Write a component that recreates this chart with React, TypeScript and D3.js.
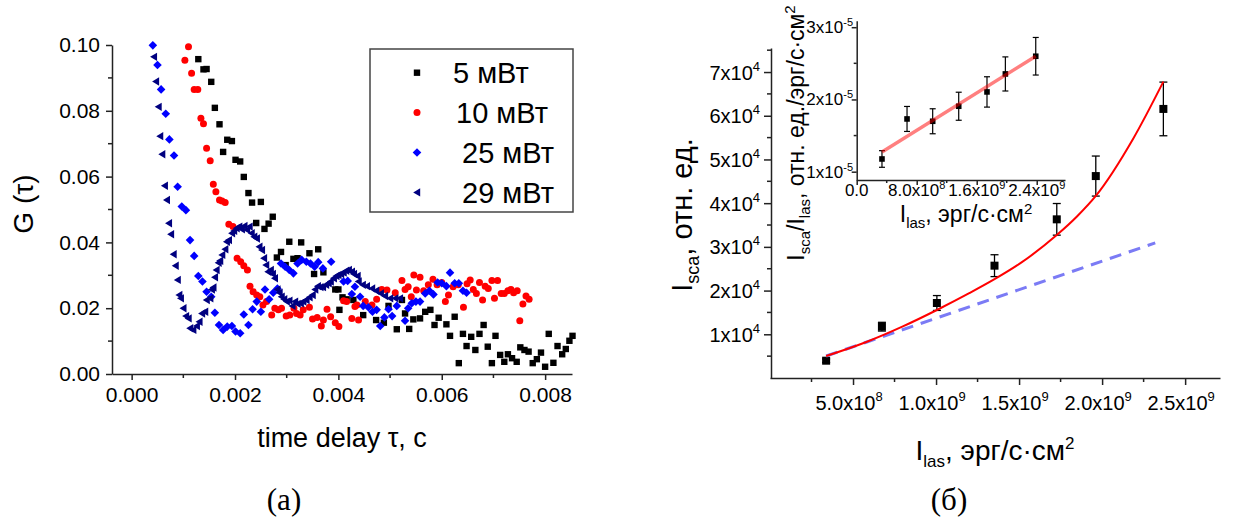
import React, { useEffect, useRef } from 'react';
import * as d3 from 'd3';

const W = 1234;
const H = 522;

// ---- panel (a): G(tau), time delay in seconds ----
const g5mW: [number, number][] = [
  [0.00129, 0.0957], [0.00139, 0.0926], [0.00145, 0.0927], [0.00154, 0.0888], [0.00161, 0.0809],
  [0.0017, 0.0759], [0.00177, 0.0675], [0.00185, 0.0712], [0.00194, 0.0708], [0.00201, 0.0651],
  [0.0021, 0.0646], [0.00217, 0.0599], [0.00226, 0.055], [0.00233, 0.0521], [0.00241, 0.0459],
  [0.0025, 0.0523], [0.00257, 0.0441], [0.00265, 0.0457], [0.00273, 0.0478], [0.00281, 0.0354],
  [0.00289, 0.0371], [0.00298, 0.0331], [0.00305, 0.0402], [0.00313, 0.035], [0.00321, 0.0352],
  [0.00328, 0.04], [0.00344, 0.0367], [0.00353, 0.0304], [0.00361, 0.0379], [0.00371, 0.0309],
  [0.00394, 0.0257], [0.004, 0.0257], [0.00402, 0.0195], [0.00408, 0.0233], [0.00416, 0.0227],
  [0.00429, 0.0225], [0.00448, 0.0179], [0.00473, 0.0164], [0.00488, 0.0156], [0.00497, 0.0207],
  [0.00513, 0.0136], [0.00523, 0.0225], [0.00529, 0.0184], [0.00537, 0.0137], [0.00545, 0.0166],
  [0.00558, 0.0169], [0.00568, 0.0189], [0.00578, 0.0195], [0.00586, 0.0149], [0.00594, 0.0171],
  [0.00609, 0.0151], [0.00616, 0.0116], [0.00625, 0.0174], [0.00633, 0.0033], [0.00641, 0.0122],
  [0.00648, 0.0085], [0.00657, 0.0113], [0.00665, 0.0073], [0.00673, 0.0122], [0.00681, 0.0149],
  [0.00689, 0.0083], [0.00697, 0.0033], [0.00704, 0.0116], [0.00713, 0.0058], [0.00721, 0.0037],
  [0.00728, 0.006], [0.00736, 0.0048], [0.00745, 0.0037], [0.00752, 0.0081], [0.0076, 0.0073],
  [0.00768, 0.0068], [0.00776, 0.0033], [0.00784, 0.0045], [0.00792, 0.0065], [0.008, 0.0022],
  [0.00807, 0.0122], [0.00816, 0.0034], [0.00824, 0.0085], [0.00833, 0.006], [0.0084, 0.0076],
  [0.00847, 0.0101], [0.00853, 0.0116],
];

const g10mW: [number, number][] = [
  [0.00103, 0.0954], [0.0011, 0.0995], [0.00116, 0.0914], [0.00121, 0.0865], [0.00128, 0.0865],
  [0.00134, 0.0777], [0.00139, 0.0761], [0.00145, 0.0686], [0.00152, 0.0648], [0.00158, 0.0577],
  [0.00163, 0.0554], [0.0017, 0.0529], [0.00175, 0.0526], [0.00181, 0.0521], [0.00188, 0.0455],
  [0.00196, 0.0448], [0.00204, 0.0352], [0.00211, 0.0341], [0.00217, 0.0329], [0.00224, 0.0316],
  [0.00229, 0.0267], [0.00235, 0.025], [0.00242, 0.024], [0.00248, 0.0235], [0.00254, 0.021],
  [0.00261, 0.022], [0.00271, 0.0179], [0.00277, 0.02], [0.00284, 0.0195], [0.0029, 0.02],
  [0.00299, 0.0176], [0.00306, 0.0179], [0.00314, 0.02], [0.00319, 0.0184], [0.00326, 0.0179],
  [0.00332, 0.0195], [0.00344, 0.0203], [0.0035, 0.0167], [0.00359, 0.0172], [0.00367, 0.0146],
  [0.00371, 0.0164], [0.00378, 0.0197], [0.00385, 0.0174], [0.00394, 0.0156], [0.00401, 0.0144],
  [0.0041, 0.0223], [0.00416, 0.022], [0.00426, 0.0169], [0.00432, 0.0205], [0.00436, 0.021],
  [0.00439, 0.0164], [0.00452, 0.022], [0.00465, 0.021], [0.00474, 0.0227], [0.00484, 0.0257],
  [0.00494, 0.0255], [0.0051, 0.0247], [0.00523, 0.0284], [0.00529, 0.0257], [0.00535, 0.0265],
  [0.00541, 0.0235], [0.00546, 0.0301], [0.00551, 0.0255], [0.00558, 0.0294], [0.00565, 0.0253],
  [0.00574, 0.0271], [0.00583, 0.0288], [0.00591, 0.0271], [0.006, 0.0278], [0.00607, 0.022],
  [0.00613, 0.024], [0.00622, 0.0265], [0.00632, 0.0271], [0.00642, 0.0203], [0.00649, 0.0274],
  [0.00655, 0.0286], [0.00661, 0.0257], [0.00667, 0.0245], [0.00673, 0.0278], [0.00679, 0.0225],
  [0.00684, 0.0267], [0.0069, 0.026], [0.00697, 0.0284], [0.00702, 0.023], [0.00708, 0.0284],
  [0.00715, 0.0245], [0.00721, 0.0245], [0.00728, 0.0253], [0.00734, 0.0257], [0.00739, 0.0247],
  [0.00746, 0.0253], [0.00751, 0.0162], [0.00757, 0.0213], [0.00763, 0.0237], [0.00769, 0.0227],
];

const g25mW: [number, number][] = [
  [0.00041, 0.0999], [0.0005, 0.0939], [0.00057, 0.0865], [0.00066, 0.0791], [0.00073, 0.0713],
  [0.00082, 0.0664], [0.00089, 0.0569], [0.00097, 0.0509], [0.00105, 0.0498], [0.00113, 0.0407],
  [0.00121, 0.0359], [0.00129, 0.0298], [0.00137, 0.0281], [0.00145, 0.025], [0.00154, 0.0235],
  [0.00161, 0.0186], [0.00169, 0.0149], [0.00177, 0.0134], [0.00185, 0.0144], [0.00194, 0.0146],
  [0.00201, 0.0129], [0.0021, 0.0124], [0.00217, 0.0181], [0.00226, 0.0149], [0.00234, 0.0197],
  [0.00242, 0.022], [0.0025, 0.0189], [0.00258, 0.0257], [0.00266, 0.0227], [0.00274, 0.0247],
  [0.00282, 0.026], [0.00289, 0.0336], [0.00297, 0.0326], [0.00305, 0.0316], [0.00313, 0.0306],
  [0.00321, 0.0336], [0.00329, 0.0347], [0.00338, 0.0341], [0.00346, 0.0336], [0.00354, 0.0326],
  [0.00361, 0.034], [0.0037, 0.0321], [0.00386, 0.0341], [0.0041, 0.0281], [0.00418, 0.0283],
  [0.00426, 0.0243], [0.00432, 0.0265], [0.00442, 0.0235], [0.00448, 0.0207], [0.00458, 0.0203],
  [0.00466, 0.0189], [0.00474, 0.0195], [0.00481, 0.0146], [0.00489, 0.0172], [0.00497, 0.0197],
  [0.00504, 0.0176], [0.00513, 0.0207], [0.00529, 0.0162], [0.00535, 0.02], [0.00542, 0.0215],
  [0.0055, 0.022], [0.00558, 0.022], [0.00568, 0.0245], [0.00576, 0.0253], [0.00584, 0.0242],
  [0.00592, 0.0278], [0.006, 0.0276], [0.00609, 0.0267], [0.00616, 0.0308], [0.00625, 0.0276],
  [0.00633, 0.0276], [0.00641, 0.0253], [0.00648, 0.0247],
];

const g29mW: [number, number][] = [
  [0.00043, 0.0964], [0.00047, 0.0889], [0.00052, 0.0812], [0.00055, 0.0723], [0.00059, 0.0668],
  [0.00064, 0.0572], [0.00068, 0.0529], [0.00072, 0.0458], [0.00076, 0.0425], [0.00081, 0.0364],
  [0.00085, 0.0329], [0.00089, 0.0286], [0.00092, 0.024], [0.00095, 0.023], [0.001, 0.02],
  [0.00105, 0.0176], [0.0011, 0.0169], [0.00113, 0.0139], [0.00119, 0.0134], [0.00126, 0.0146],
  [0.00131, 0.0159], [0.00136, 0.0184], [0.00142, 0.0189], [0.00145, 0.0225], [0.00152, 0.023],
  [0.00155, 0.0257], [0.00158, 0.0263], [0.00161, 0.0294], [0.00164, 0.0316], [0.00168, 0.0338],
  [0.00171, 0.0344], [0.00175, 0.0362], [0.00181, 0.0379], [0.00184, 0.0402], [0.00188, 0.0407],
  [0.00194, 0.0428], [0.00198, 0.0435], [0.00203, 0.0443], [0.00208, 0.0448], [0.00213, 0.044],
  [0.00218, 0.045], [0.00223, 0.0438], [0.00228, 0.0448], [0.00232, 0.0428], [0.00237, 0.0417],
  [0.00242, 0.0412], [0.00247, 0.0387], [0.00252, 0.0377], [0.00256, 0.0352], [0.0026, 0.0331],
  [0.00264, 0.0311], [0.00269, 0.0316], [0.00273, 0.0304], [0.00277, 0.0291], [0.00282, 0.0257],
  [0.00286, 0.0247], [0.0029, 0.0235], [0.00295, 0.0227], [0.003, 0.022], [0.00305, 0.0223],
  [0.00311, 0.0207], [0.00316, 0.022], [0.00321, 0.0213], [0.00327, 0.0215], [0.00332, 0.022],
  [0.00338, 0.0225], [0.00344, 0.0233], [0.0035, 0.024], [0.00355, 0.0257], [0.0036, 0.0267],
  [0.00365, 0.0264], [0.0037, 0.0264], [0.00376, 0.0271], [0.00381, 0.0276], [0.00385, 0.0281],
  [0.00391, 0.0291], [0.00396, 0.0298], [0.004, 0.0301], [0.00405, 0.0304], [0.0041, 0.0308],
  [0.00415, 0.0314], [0.0042, 0.0316], [0.00426, 0.0311], [0.0043, 0.0304], [0.00437, 0.0298],
  [0.00439, 0.0281], [0.00447, 0.0271], [0.00455, 0.0267], [0.00465, 0.026], [0.00473, 0.0253],
  [0.00482, 0.0245], [0.0049, 0.0237], [0.005, 0.023], [0.0051, 0.023], [0.00519, 0.023],
];

const seriesA = [
  { label: '5 мВт', color: '#000000', shape: 'square', data: g5mW },
  { label: '10 мВт', color: '#ff0000', shape: 'circle', data: g10mW },
  { label: '25 мВт', color: '#0000ff', shape: 'diamond', data: g25mW },
  { label: '29 мВт', color: '#000080', shape: 'triangle', data: g29mW },
];
const tauTicks = [0, 0.002, 0.004, 0.006, 0.008];
const tauMinor = [0.001, 0.003, 0.005, 0.007];
const gTicks = [0, 0.02, 0.04, 0.06, 0.08, 0.1];
const gMinor = [0.01, 0.03, 0.05, 0.07, 0.09];

// ---- panel (б): scattered intensity vs laser intensity ----
const lasI = [0.338e9, 0.674e9, 1.005e9, 1.352e9, 1.727e9, 1.962e9, 2.369e9];
const scaI = [3960, 11740, 17160, 25700, 36300, 46200, 61560];
const scaErr = [400, 1000, 1700, 2500, 3620, 4580, 6140];
const fitLasI = [0.338e9, 0.584e9, 0.8e9, 1.005e9, 1.2e9, 1.352e9, 1.517e9, 1.727e9, 1.85e9, 1.962e9, 2.188e9, 2.369e9];
const fitSca = [5030, 8300, 11800, 15560, 19400, 22600, 26500, 32700, 37000, 41650, 54800, 67800];
const linLasI = [0.338e9, 2.32e9];
const linSca = [5030, 30900];
const lasTicks = [5e8, 1e9, 1.5e9, 2e9, 2.5e9];
const lasMinor = [2.5e8, 7.5e8, 1.25e9, 1.75e9, 2.25e9];
const lasTickLabels = [['5.0x10', '8'], ['1.0x10', '9'], ['1.5x10', '9'], ['2.0x10', '9'], ['2.5x10', '9']];
const scaTicks = [1e4, 2e4, 3e4, 4e4, 5e4, 6e4, 7e4];
const scaMinor = [5e3, 15e3, 25e3, 35e3, 45e3, 55e3, 65e3, 75e3];

// inset: ratio I_sca / I_las
const insLasI = [0.337e9, 0.671e9, 1.013e9, 1.36e9, 1.737e9, 1.982e9, 2.387e9];
const insRatio = [1.176e-5, 1.73e-5, 1.698e-5, 1.906e-5, 2.104e-5, 2.353e-5, 2.598e-5];
const insErr = [0.115e-5, 0.173e-5, 0.173e-5, 0.194e-5, 0.21e-5, 0.236e-5, 0.26e-5];
const insFitLasI = [0.337e9, 2.387e9];
const insFitRatio = [1.273e-5, 2.598e-5];
const insXTicks = [0, 8e8, 1.6e9, 2.4e9];
const insXMinor = [4e8, 1.2e9, 2e9];
const insXLabels = [['0.0', ''], ['8.0x10', '8'], ['1.6x10', '9'], ['2.4x10', '9']];
const insYTicks = [1e-5, 2e-5, 3e-5];
const insYMinor = [1.5e-5, 2.5e-5];

const SANS = '"Liberation Sans", Arial, sans-serif';
const SERIF = '"Liberation Serif", "Times New Roman", serif';

const markerPath = (shape: string, x: number, y: number) => {
  if (shape === 'square') return `M${x - 3.2},${y - 3.2}h6.4v6.4h-6.4Z`;
  if (shape === 'circle') return `M${x - 3.5},${y}a3.5,3.5 0 1,0 7,0a3.5,3.5 0 1,0 -7,0Z`;
  if (shape === 'diamond') return `M${x},${y - 4.3}L${x + 4.3},${y}L${x},${y + 4.3}L${x - 4.3},${y}Z`;
  return `M${x - 3.8},${y}L${x + 3.2},${y - 4.2}L${x + 3.2},${y + 4.2}Z`;
};

const styleAxis = (g: any) => {
  g.selectAll('path,line').attr('stroke', '#222').attr('stroke-width', 1.5);
  g.selectAll('text').attr('fill', '#000').attr('font-family', SANS);
};

const App = () => {
  const ref = useRef<SVGSVGElement>(null);

  useEffect(() => {
    const svg = d3.select(ref.current);
    svg.selectAll('*').remove();

    // ================= panel (a) =================
    const xA = d3.scaleLinear().domain([-0.00038, 0.00852]).range([112, 572]);
    const yA = d3.scaleLinear().domain([0, 0.1]).range([374, 45]);

    const gxA = svg.append('g').attr('transform', 'translate(0,374)')
      .call(d3.axisBottom(xA).tickValues(tauTicks).tickSize(6).tickSizeOuter(0).tickPadding(7).tickFormat(d3.format('.3f')));
    gxA.selectAll('text').attr('font-size', 21);
    gxA.selectAll('.minor').data(tauMinor).enter().append('line').attr('class', 'minor')
      .attr('x1', (d) => xA(d)).attr('x2', (d) => xA(d)).attr('y1', 0).attr('y2', 4);
    styleAxis(gxA);

    const gyA = svg.append('g').attr('transform', 'translate(112,0)')
      .call(d3.axisLeft(yA).tickValues(gTicks).tickSize(6).tickSizeOuter(0).tickPadding(6).tickFormat(d3.format('.2f')));
    gyA.selectAll('text').attr('font-size', 21);
    gyA.selectAll('.minor').data(gMinor).enter().append('line').attr('class', 'minor')
      .attr('x1', 0).attr('x2', -4).attr('y1', (d) => yA(d)).attr('y2', (d) => yA(d));
    styleAxis(gyA);

    seriesA.forEach((s) => {
      svg.append('g').selectAll('path').data(s.data).enter().append('path')
        .attr('d', (d) => markerPath(s.shape, xA(d[0]), yA(d[1])))
        .attr('fill', s.color);
    });

    // legend
    const legX = [453, 456, 462, 462];
    svg.append('rect').attr('x', 370).attr('y', 49).attr('width', 203).attr('height', 163)
      .attr('fill', 'none').attr('stroke', '#444').attr('stroke-width', 1.5);
    seriesA.forEach((s, i) => {
      const cy = 72.7 + i * 39.9;
      svg.append('path').attr('d', markerPath(s.shape, 417, cy)).attr('fill', s.color);
      svg.append('text').attr('x', legX[i]).attr('y', cy + 10.5).attr('font-family', SANS)
        .attr('font-size', 29).text(s.label);
    });

    svg.append('text').attr('transform', 'translate(33,204) rotate(-90)').attr('text-anchor', 'middle')
      .attr('font-family', SANS).attr('font-size', 28).text('G (τ)');
    svg.append('text').attr('x', 342).attr('y', 447).attr('text-anchor', 'middle')
      .attr('font-family', SANS).attr('font-size', 27).text('time delay τ, c');
    svg.append('text').attr('x', 284).attr('y', 510).attr('text-anchor', 'middle')
      .attr('font-family', SERIF).attr('font-size', 31).text('(a)');

    // ================= panel (б) =================
    const xB = d3.scaleLinear().domain([0, 2.71e9]).range([770, 1220]);
    const yB = d3.scaleLinear().domain([0, 75500]).range([378, 48]);

    const gxB = svg.append('g').attr('transform', 'translate(0,378)')
      .call(d3.axisBottom(xB).tickValues(lasTicks).tickSize(7).tickSizeOuter(0).tickFormat(() => ''));
    gxB.selectAll('.minor').data(lasMinor).enter().append('line').attr('class', 'minor')
      .attr('x1', (d) => xB(d)).attr('x2', (d) => xB(d)).attr('y1', 0).attr('y2', 4);
    styleAxis(gxB);
    lasTicks.forEach((v, i) => {
      const t = svg.append('text').attr('x', xB(v) - 4).attr('y', 410).attr('text-anchor', 'middle')
        .attr('font-family', SANS).attr('font-size', 20);
      t.append('tspan').text(lasTickLabels[i][0]);
      t.append('tspan').attr('dy', -9).attr('font-size', 13).text(lasTickLabels[i][1]);
    });

    const gyB = svg.append('g').attr('transform', 'translate(771,0)')
      .call(d3.axisLeft(yB).tickValues(scaTicks).tickSize(7).tickSizeOuter(0).tickFormat(() => ''));
    gyB.selectAll('.minor').data(scaMinor).enter().append('line').attr('class', 'minor')
      .attr('x1', 0).attr('x2', -4).attr('y1', (d) => yB(d)).attr('y2', (d) => yB(d));
    styleAxis(gyB);
    scaTicks.forEach((v) => {
      const t = svg.append('text').attr('x', 760).attr('y', yB(v) + 7.5).attr('text-anchor', 'end')
        .attr('font-family', SANS).attr('font-size', 20);
      t.append('tspan').text(`${v / 1e4}x10`);
      t.append('tspan').attr('dy', -9).attr('font-size', 13).text('4');
    });

    // error bars + points
    const eb = svg.append('g').attr('stroke', '#000').attr('stroke-width', 1.3);
    lasI.forEach((x, i) => {
      const px = xB(x);
      const y0 = yB(scaI[i] - scaErr[i]);
      const y1 = yB(scaI[i] + scaErr[i]);
      eb.append('line').attr('x1', px).attr('x2', px).attr('y1', y0).attr('y2', y1);
      eb.append('line').attr('x1', px - 4).attr('x2', px + 4).attr('y1', y0).attr('y2', y0);
      eb.append('line').attr('x1', px - 4).attr('x2', px + 4).attr('y1', y1).attr('y2', y1);
    });
    svg.append('g').selectAll('rect').data(lasI).enter().append('rect')
      .attr('x', (d) => xB(d) - 4).attr('y', (d, i) => yB(scaI[i]) - 4)
      .attr('width', 8).attr('height', 8).attr('fill', '#000');

    const lineB = d3.line<number>().x((d) => xB(d)).curve(d3.curveMonotoneX);
    svg.append('path').datum(linLasI)
      .attr('d', lineB.y((d, i) => yB(linSca[i])))
      .attr('fill', 'none').attr('stroke', '#7b7bf5').attr('stroke-width', 3).attr('stroke-dasharray', '12,8');
    svg.append('path').datum(fitLasI)
      .attr('d', lineB.y((d, i) => yB(fitSca[i])))
      .attr('fill', 'none').attr('stroke', '#ff0000').attr('stroke-width', 2);

    const yTitle = svg.append('text').attr('transform', 'translate(692,215) rotate(-90)')
      .attr('text-anchor', 'middle').attr('font-family', SANS).attr('font-size', 29);
    yTitle.append('tspan').text('I');
    yTitle.append('tspan').attr('dy', 7).attr('font-size', 18).text('sca');
    yTitle.append('tspan').attr('dy', -7).text(', отн. ед.');

    const xTitle = svg.append('text').attr('x', 995).attr('y', 460).attr('text-anchor', 'middle')
      .attr('font-family', SANS).attr('font-size', 28);
    xTitle.append('tspan').text('I');
    xTitle.append('tspan').attr('dy', 7).attr('font-size', 17).text('las');
    xTitle.append('tspan').attr('dy', -7).text(', эрг/с·см');
    xTitle.append('tspan').attr('dy', -11).attr('font-size', 17).text('2');

    svg.append('text').attr('x', 949).attr('y', 510).attr('text-anchor', 'middle')
      .attr('font-family', SERIF).attr('font-size', 31).text('(б)');

    // ---- inset ----
    const xI = d3.scaleLinear().domain([0, 2.777e9]).range([856.7, 1065]);
    const yI = d3.scaleLinear().domain([0.885e-5, 3.09e-5]).range([180, 20.7]);

    const gxI = svg.append('g').attr('transform', 'translate(0,180)')
      .call(d3.axisBottom(xI).tickValues(insXTicks).tickSize(5).tickSizeOuter(0).tickFormat(() => ''));
    gxI.selectAll('.minor').data(insXMinor).enter().append('line').attr('class', 'minor')
      .attr('x1', (d) => xI(d)).attr('x2', (d) => xI(d)).attr('y1', 0).attr('y2', 3);
    styleAxis(gxI);
    insXTicks.forEach((v, i) => {
      const t = svg.append('text').attr('x', xI(v)).attr('y', 196).attr('text-anchor', 'middle')
        .attr('font-family', SANS).attr('font-size', 17);
      t.append('tspan').text(insXLabels[i][0]);
      if (insXLabels[i][1]) t.append('tspan').attr('dy', -7).attr('font-size', 11).text(insXLabels[i][1]);
    });

    const gyI = svg.append('g').attr('transform', 'translate(856.7,0)')
      .call(d3.axisLeft(yI).tickValues(insYTicks).tickSize(5).tickSizeOuter(0).tickFormat(() => ''));
    gyI.selectAll('.minor').data(insYMinor).enter().append('line').attr('class', 'minor')
      .attr('x1', 0).attr('x2', -3).attr('y1', (d) => yI(d)).attr('y2', (d) => yI(d));
    styleAxis(gyI);
    insYTicks.forEach((v) => {
      const t = svg.append('text').attr('x', 853).attr('y', yI(v) + 6).attr('text-anchor', 'end')
        .attr('font-family', SANS).attr('font-size', 17);
      t.append('tspan').text(`${Math.round(v * 1e5)}x10`);
      t.append('tspan').attr('dy', -7).attr('font-size', 11).text('-5');
    });

    const ebI = svg.append('g').attr('stroke', '#000').attr('stroke-width', 1.2);
    insLasI.forEach((x, i) => {
      const px = xI(x);
      const y0 = yI(insRatio[i] - insErr[i]);
      const y1 = yI(insRatio[i] + insErr[i]);
      ebI.append('line').attr('x1', px).attr('x2', px).attr('y1', y0).attr('y2', y1);
      ebI.append('line').attr('x1', px - 3).attr('x2', px + 3).attr('y1', y0).attr('y2', y0);
      ebI.append('line').attr('x1', px - 3).attr('x2', px + 3).attr('y1', y1).attr('y2', y1);
    });
    svg.append('g').selectAll('rect').data(insLasI).enter().append('rect')
      .attr('x', (d) => xI(d) - 2.8).attr('y', (d, i) => yI(insRatio[i]) - 2.8)
      .attr('width', 5.6).attr('height', 5.6).attr('fill', '#000');
    svg.append('path').datum(insFitLasI)
      .attr('d', d3.line<number>().x((d) => xI(d)).y((d, i) => yI(insFitRatio[i])))
      .attr('fill', 'none').attr('stroke', 'rgba(255,0,0,0.5)').attr('stroke-width', 3.5);

    const yTitleI = svg.append('text').attr('transform', 'translate(804,133) rotate(-90)')
      .attr('text-anchor', 'middle').attr('font-family', SANS).attr('font-size', 23);
    yTitleI.append('tspan').text('I');
    yTitleI.append('tspan').attr('dy', 6).attr('font-size', 15).text('sca');
    yTitleI.append('tspan').attr('dy', -6).text('/I');
    yTitleI.append('tspan').attr('dy', 6).attr('font-size', 15).text('las');
    yTitleI.append('tspan').attr('dy', -6).text(', отн. ед./эрг/с·см');
    yTitleI.append('tspan').attr('dy', -9).attr('font-size', 15).text('2');

    const xTitleI = svg.append('text').attr('x', 966).attr('y', 222).attr('text-anchor', 'middle')
      .attr('font-family', SANS).attr('font-size', 23);
    xTitleI.append('tspan').text('I');
    xTitleI.append('tspan').attr('dy', 6).attr('font-size', 15).text('las');
    xTitleI.append('tspan').attr('dy', -6).text(', эрг/с·см');
    xTitleI.append('tspan').attr('dy', -8).attr('font-size', 15).text('2');
  }, []);

  return (
    <svg ref={ref} width={W} height={H}
      style={{ position: 'absolute', left: 0, top: 0, background: '#fff' }} />
  );
};

export default App;
